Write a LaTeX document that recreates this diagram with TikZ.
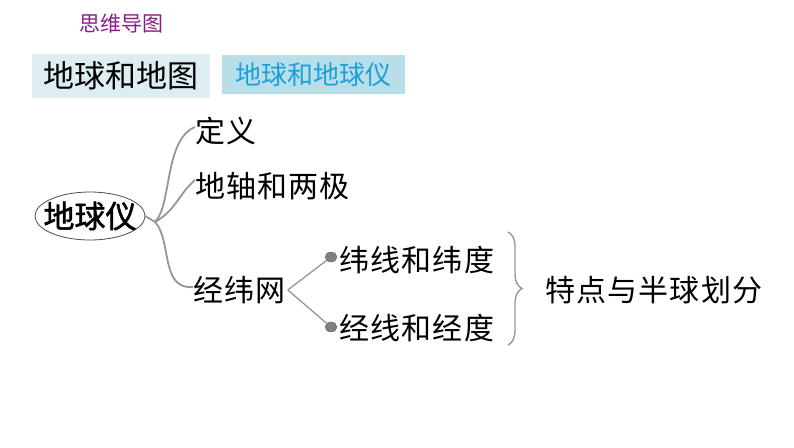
\documentclass[tikz,border=0pt]{standalone}
\usepackage{fontspec}
\setmainfont{Noto Sans CJK SC}
\newfontfamily\spaced[LetterSpace=4]{Noto Sans CJK SC}
\newfontfamily\heavy[FakeBold=1.6]{Noto Sans CJK SC}
\usetikzlibrary{positioning,shapes.geometric,decorations.pathreplacing}

\definecolor{headpurple}{RGB}{140,26,140}
\definecolor{tabgrey}{RGB}{221,237,242}
\definecolor{tabblue}{RGB}{183,222,233}
\definecolor{tabcyan}{RGB}{27,160,216}
\definecolor{twig}{RGB}{150,150,150}

\tikzset{
  tab/.style={inner sep=0pt, minimum height=44pt},
  leaf/.style={font=\spaced\fontsize{30}{34}\selectfont, inner sep=0pt, anchor=west},
  branch/.style={draw=twig, line width=1.8pt},
  knob/.style={ellipse, fill=twig!85!black, draw=twig!70!black, line width=0.4pt,
               inner sep=0pt, minimum width=12pt, minimum height=10pt}
}

\begin{document}
\begin{tikzpicture}[x=1pt,y=-1pt]
  \useasboundingbox (0,0) rectangle (794,447);

  \node[text=headpurple, font=\fontsize{21}{24}\selectfont] (title) at (121,24) {思维导图};
  \node[tab, fill=tabgrey, minimum width=178pt, font=\fontsize{31}{34}\selectfont] (map) at (121,75.5) {地球和地图};
  \node[tab, fill=tabblue, minimum width=183pt, minimum height=39pt, text=tabcyan, font=\fontsize{26}{30}\selectfont] (tabglobe) at (313.5,74.5) {地球和地球仪};

  \node[ellipse, draw=black!70, line width=0.8pt, inner xsep=-8pt, inner ysep=0pt,
        minimum width=110pt, minimum height=48pt,
        font=\heavy\fontsize{31}{34}\selectfont] (globe) at (90,216) {地球仪};
  \coordinate (hub) at (155,222);

  \node[leaf] (def) at (195,131) {定义};
  \node[leaf] (axis) at (195,186) {地轴和两极};
  \node[leaf] (net) at (193,290) {经纬网};

  \draw[branch] (globe.east) -- (hub);
  \draw[branch] (hub) .. controls (172,205) and (164,140) .. ([yshift=4pt]def.west);
  \draw[branch] (hub) .. controls (176,210) and (178,195) .. ([yshift=6pt]axis.west);
  \draw[branch] (hub) .. controls (172,240) and (160,290) .. ([yshift=3pt]net.west);

  \node[knob] (d1) at (331,257) {};
  \node[knob] (d2) at (331,327) {};
  \node[leaf, right=2pt of d1, yshift=-3pt] (lat) {纬线和纬度};
  \node[leaf, right=2pt of d2, yshift=-1pt] (lon) {经线和经度};

  \draw[branch, line width=1.3pt] ([xshift=2pt]net.east) -- (d1);
  \draw[branch, line width=1.3pt] ([xshift=2pt]net.east) -- (d2);

  \draw[branch, line width=1.4pt, decorate, decoration={brace, amplitude=14pt}]
    (508,232) -- (508,345);

  \node[leaf] (split) at (545,290) {特点与半球划分};
\end{tikzpicture}
\end{document}
